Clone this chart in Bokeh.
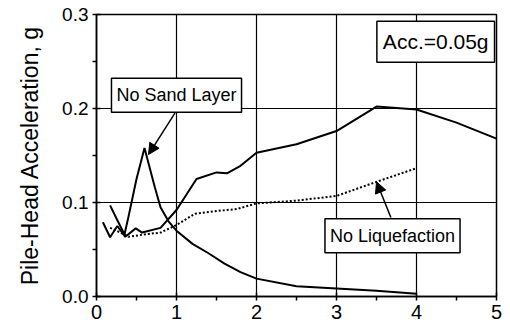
from bokeh.plotting import figure
from bokeh.models import (FixedTicker, Label, Arrow, NormalHead, Range1d)
from bokeh.embed import file_html
from bokeh.resources import INLINE

# ---- data ----
x_ticks = [0, 1, 2, 3, 4, 5]
x_minor = [0.5, 1.5, 2.5, 3.5, 4.5]
y_ticks = [0.0, 0.1, 0.2, 0.3]
y_minor = [0.05, 0.15, 0.25]
y_tick_labels = ["0.0", "0.1", "0.2", "0.3"]

# liquefaction with sand layer (solid, rising)
liq_x = [0.08, 0.17, 0.26, 0.36, 0.49, 0.57, 0.8, 1.0, 1.25, 1.5, 1.63, 1.8, 2.0, 2.5, 3.0, 3.5, 4.0, 4.5, 5.0]
liq_y = [0.079, 0.063, 0.075, 0.0635, 0.0725, 0.068, 0.073, 0.092, 0.125, 0.132, 0.131, 0.139, 0.153, 0.162, 0.176, 0.202, 0.199, 0.185, 0.168]

# no sand layer (solid, peak then decay)
nosand_x = [0.17, 0.25, 0.35, 0.4, 0.5, 0.6, 0.73, 0.8, 0.9, 1.0, 1.2, 1.4, 1.6, 1.8, 2.0, 2.5, 3.0, 3.5, 4.0]
nosand_y = [0.097, 0.083, 0.066, 0.085, 0.125, 0.158, 0.116, 0.095, 0.080, 0.070, 0.056, 0.046, 0.035, 0.026, 0.019, 0.011, 0.0085, 0.006, 0.003]

# no liquefaction (dotted)
noliq_x = [0.17, 0.3, 0.4, 0.6, 0.8, 1.0, 1.23, 1.5, 1.75, 2.0, 2.5, 3.0, 3.5, 4.0]
noliq_y = [0.073, 0.068, 0.0635, 0.066, 0.068, 0.076, 0.088, 0.091, 0.093, 0.099, 0.102, 0.107, 0.122, 0.1365]

FONT = "Liberation Sans"

p = figure(width=502, height=324, output_backend="svg", toolbar_location=None,
           x_range=Range1d(0, 5), y_range=Range1d(0, 0.3),
           min_border_left=96, min_border_right=6, min_border_top=14, min_border_bottom=28)
p.background_fill_color = "white"
p.border_fill_color = "white"
p.outline_line_color = "black"
p.outline_line_width = 1.5

# axes
p.xaxis.ticker = FixedTicker(ticks=x_ticks, minor_ticks=x_minor)
p.yaxis.ticker = FixedTicker(ticks=y_ticks, minor_ticks=y_minor)
p.yaxis.major_label_overrides = {v: s for v, s in zip(y_ticks, y_tick_labels)}
for ax in (p.xaxis, p.yaxis):
    ax.axis_line_color = "black"
    ax.axis_line_width = 1.5
    ax.major_tick_line_color = "black"
    ax.major_tick_line_width = 1.5
    ax.minor_tick_line_color = "black"
    ax.minor_tick_line_width = 1.5
    ax.major_tick_in = 4
    ax.major_tick_out = 4
    ax.minor_tick_in = 0
    ax.minor_tick_out = 4
    ax.major_label_text_font = FONT
    ax.major_label_text_color = "black"
    ax.major_label_standoff = 4
p.xaxis.major_label_text_font_size = "20px"
p.yaxis.major_label_text_font_size = "19px"
p.yaxis.axis_label = "Pile-Head Acceleration, g"
p.yaxis.axis_label_text_font = FONT
p.yaxis.axis_label_text_font_style = "normal"
p.yaxis.axis_label_text_font_size = "23px"
p.yaxis.axis_label_text_color = "black"
p.yaxis.axis_label_standoff = 16

# grid
p.xgrid.ticker = FixedTicker(ticks=x_ticks)
p.ygrid.ticker = FixedTicker(ticks=y_ticks)
for g in (p.xgrid, p.ygrid):
    g.grid_line_color = "black"
    g.grid_line_width = 1.2
    g.grid_line_alpha = 1.0

# curves
p.line(liq_x, liq_y, line_color="black", line_width=2)
p.line(nosand_x, nosand_y, line_color="black", line_width=2)
p.line(noliq_x, noliq_y, line_color="black", line_width=2, line_dash="2 2")

# annotations
def boxed(x, y, text, size, pad):
    lab = Label(x=x, y=y, text=text, text_font=FONT, text_font_size=size,
                text_align="center", text_baseline="middle", text_color="black",
                background_fill_color="white", border_line_color="black",
                border_line_width=1.5, padding=pad)
    p.add_layout(lab)

p.add_layout(Arrow(end=NormalHead(size=11, fill_color="black", line_color="black"),
                   x_start=0.98, y_start=0.195, x_end=0.65, y_end=0.151,
                   line_color="black", line_width=1.5))
p.add_layout(Arrow(end=NormalHead(size=11, fill_color="black", line_color="black"),
                   x_start=3.68, y_start=0.084, x_end=3.50, y_end=0.122,
                   line_color="black", line_width=1.5))

boxed(1.0, 0.214, "No Sand Layer", "18px", (5, 7))
boxed(4.24, 0.271, "Acc.=0.05g", "21px", (6, 9))
boxed(3.70, 0.0646, "No Liquefaction", "18px", (5, 7))

open("out.html", "w").write(file_html(p, INLINE))
